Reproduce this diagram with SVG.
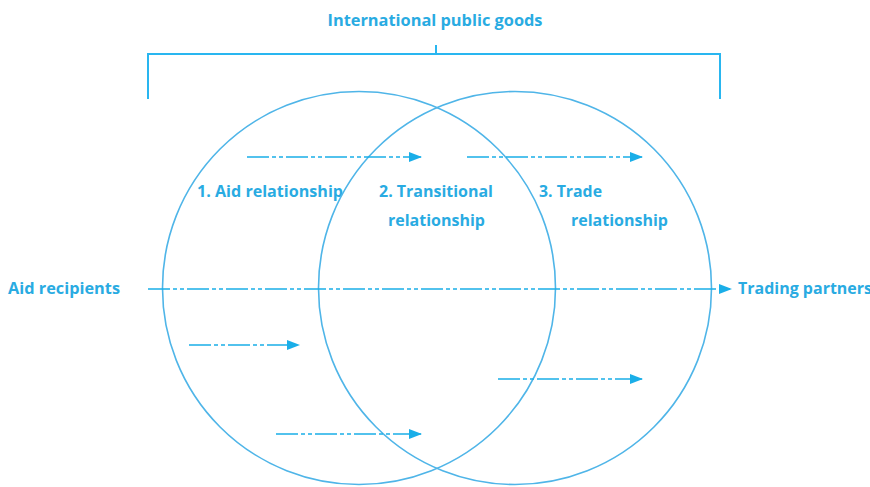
<svg xmlns="http://www.w3.org/2000/svg" width="870" height="487" viewBox="0 0 870 487">
  <style>
    .lbl { font-family: "Open Sans", Lato, "Liberation Sans", sans-serif; font-weight: bold; font-size: 15.5px; fill: #29abe2; }
    .ring { fill: none; stroke: #4fb5e8; stroke-width: 1.6; }
    .bracket { fill: none; stroke: #29b6f0; stroke-width: 2; }
    .flow { fill: none; stroke: #1aaee8; stroke-width: 1.5; stroke-dasharray: 22 3 4 3 4 3; marker-end: url(#head); }
  </style>
  <defs>
    <marker id="head" markerWidth="13" markerHeight="10" refX="12" refY="5" orient="auto" markerUnits="userSpaceOnUse">
      <path d="M0,0 L13,5 L0,10 Z" fill="#1aaee8"/>
    </marker>
  </defs>
  <rect width="870" height="487" fill="#ffffff"/>

  <!-- bracket over both circles -->
  <g id="public-goods">
    <path class="bracket" d="M148,99 V54 H720 V99 M436,54 V45"/>
    <text class="lbl" x="435" y="26" text-anchor="middle" textLength="215" lengthAdjust="spacingAndGlyphs">International public goods</text>
  </g>

  <g id="aid-circle">
    <circle class="ring" cx="359" cy="288" r="196.5"/>
    <text class="lbl" x="197" y="197" textLength="146" lengthAdjust="spacingAndGlyphs">1. Aid relationship</text>
  </g>

  <g id="trade-circle">
    <circle class="ring" cx="515" cy="288" r="196.5"/>
    <text class="lbl" x="539" y="197" textLength="63" lengthAdjust="spacingAndGlyphs">3. Trade</text>
    <text class="lbl" x="571" y="226" textLength="97" lengthAdjust="spacingAndGlyphs">relationship</text>
  </g>

  <g id="transitional">
    <text class="lbl" x="379" y="197" textLength="114" lengthAdjust="spacingAndGlyphs">2. Transitional</text>
    <text class="lbl" x="388" y="226" textLength="97" lengthAdjust="spacingAndGlyphs">relationship</text>
  </g>

  <g id="aid-recipients">
    <text class="lbl" x="8" y="294" textLength="112" lengthAdjust="spacingAndGlyphs">Aid recipients</text>
  </g>

  <g id="trading-partners">
    <text class="lbl" x="738" y="294" textLength="134" lengthAdjust="spacingAndGlyphs">Trading partners</text>
  </g>

  <!-- flows -->
  <g id="connectors">
    <line class="flow" x1="148" y1="289" x2="731" y2="289"/>
    <line class="flow" x1="247" y1="157" x2="421" y2="157"/>
    <line class="flow" x1="467" y1="157" x2="642" y2="157"/>
    <line class="flow" x1="189" y1="345" x2="299" y2="345"/>
    <line class="flow" x1="276" y1="434" x2="421" y2="434"/>
    <line class="flow" x1="498" y1="379" x2="642" y2="379"/>
  </g>
</svg>
